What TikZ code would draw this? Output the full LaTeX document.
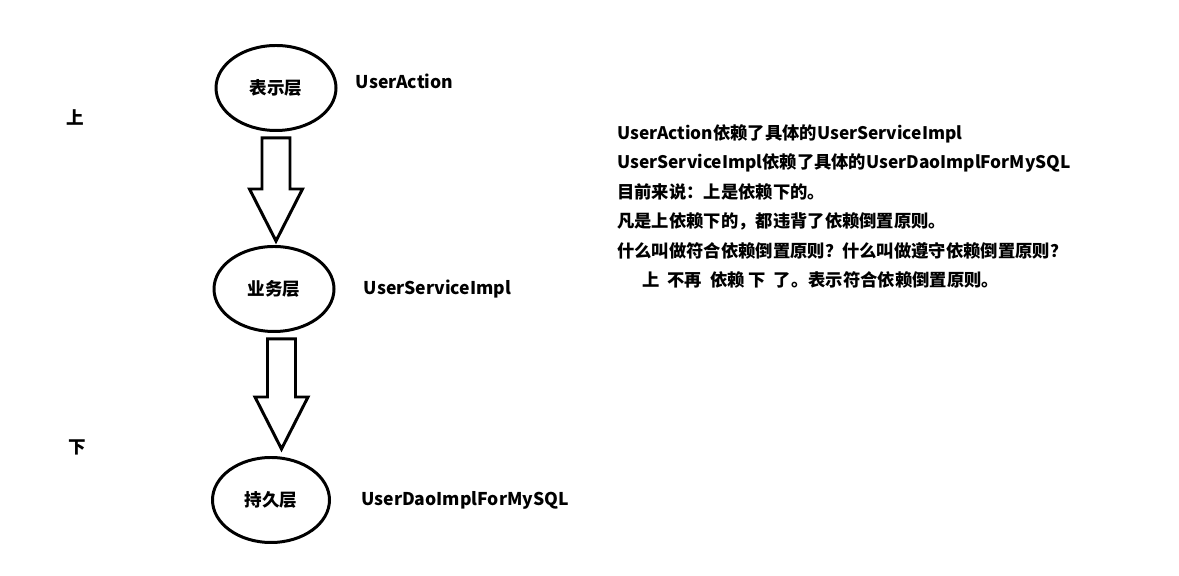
\documentclass[tikz,border=0pt]{standalone}
\usepackage{fontspec}
\setmainfont{Noto Sans CJK SC}
\usepackage{tikz}
\usetikzlibrary{calc,positioning,shapes.geometric}
\tikzset{
  layer/.style={ellipse,draw,line width=1.7pt,minimum width=2.4cm,minimum height=1.7cm,inner sep=0pt,font=\fontsize{10}{12}\selectfont\bfseries},
  lbl/.style={inner sep=0pt,font=\fontsize{10}{12}\selectfont\bfseries},
  blockar/.style={draw,line width=1.7pt,line join=miter,fill=white}
}
% block arrow: #1 top of the shaft, #2 tip
\newcommand{\blockarrow}[2]{%
  \draw[blockar] let \p1=(#1), \p2=(#2) in
    (\x1-0.28cm,\y1) -- (\x1+0.28cm,\y1) -- (\x1+0.28cm,\y2+1.04cm) -- (\x1+0.53cm,\y2+1.04cm)
    -- (\x1,\y2) -- (\x1-0.53cm,\y2+1.04cm) -- (\x1-0.28cm,\y2+1.04cm) -- cycle;}

\begin{document}
\begin{tikzpicture}
\useasboundingbox (0,0) rectangle (23.58,11.52);
\node[layer] (pres) at (5.52,9.76) {表示层};
\node[layer] (biz) at (5.48,5.74) {业务层};
\node[layer,minimum width=2.34cm] (dao) at (5.42,1.52) {持久层};
\node[lbl,right=0.36cm of pres,yshift=0.14cm] (presname) {UserAction};
\node[lbl,right=0.56cm of biz] (bizname) {UserServiceImpl};
\node[lbl,right=0.6cm of dao] (daoname) {UserDaoImplForMySQL};
\node[lbl] (up) at (1.5,9.18) {上};
\node[lbl] (down) at (1.54,2.58) {下};
\coordinate (a1top) at ($(pres.south)+(0,-0.12)$);
\coordinate (a1tip) at ($(biz.north)+(0,0.08)$);
\coordinate (a2top) at ($(biz.south)+(0.15,-0.12)$);
\coordinate (a2tip) at ($(dao.north)+(0.2,0.14)$);
\blockarrow{a1top}{a1tip}
\blockarrow{a2top}{a2tip}
\node[lbl,anchor=north west,align=left,font=\fontsize{9.85}{16.8}\selectfont\bfseries] (notes) at (12.34,9.04) {%
UserAction依赖了具体的UserServiceImpl\\
UserServiceImpl依赖了具体的UserDaoImplForMySQL\\
目前来说：上是依赖下的。\\
凡是上依赖下的，都违背了依赖倒置原则。\\
什么叫做符合依赖倒置原则？什么叫做遵守依赖倒置原则？\\
\hspace*{0.5cm}上\ \ 不再\ \ 依赖\ 下\ \ 了。表示符合依赖倒置原则。};
\end{tikzpicture}
\end{document}
